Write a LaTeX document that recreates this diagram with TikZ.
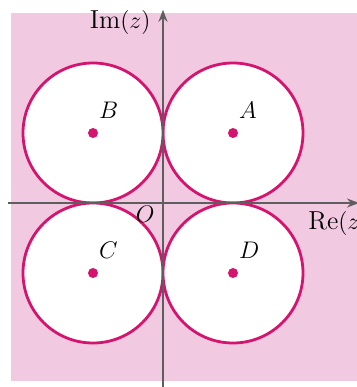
\documentclass[tikz,border=0pt]{standalone}
\usepackage{xcolor}
\usepackage{tikz}
\usetikzlibrary{positioning,arrows.meta}

\definecolor{bgpink}{HTML}{F1C9E1}
\definecolor{rim}{HTML}{D4146E}
\definecolor{axisgrey}{HTML}{5E5E5E}

\begin{document}
\begin{tikzpicture}[
    x=35pt, y=35pt,
    disc/.style={
        circle,
        draw=rim,
        fill=white,
        line width=1.4pt,
        minimum size=70pt,
        inner sep=0pt
    },
    centre/.style={
        circle,
        fill=rim,
        minimum size=5pt,
        inner sep=0pt
    },
    lbl/.style={
        inner sep=0pt,
        font=\fontsize{13}{15}\selectfont
    },
    axis/.style={
        -{Stealth[length=6pt,width=4.5pt]},
        draw=axisgrey,
        line width=1pt
    }
]

\useasboundingbox (-2.3286,-2.6286) rectangle (2.7714,2.9);
\fill[bgpink] (-2.17,-2.54) rectangle (2.8,2.71);

\node[disc] (cA) at (1,1) {};
\node[disc] (cB) at (-1,1) {};
\node[disc] (cC) at (-1,-1) {};
\node[disc] (cD) at (1,-1) {};

\coordinate (orig) at (0,0);
\coordinate (xl) at (-2.21,0);
\coordinate (xr) at (2.8,0);
\coordinate (yb) at (0,-2.63);
\coordinate (yt) at (0,2.76);

\draw[axis] (xl) -- (xr);
\draw[axis] (yb) -- (yt);

\node[centre] (dA) at (cA.center) {};
\node[centre] (dB) at (cB.center) {};
\node[centre] (dC) at (cC.center) {};
\node[centre] (dD) at (cD.center) {};

\node[lbl, above right=5pt and 1pt of dA] (lA) {$A$};
\node[lbl, above right=5pt and 1pt of dB] (lB) {$B$};
\node[lbl, above right=5pt and 1pt of dC] (lC) {$C$};
\node[lbl, above right=5pt and 1pt of dD] (lD) {$D$};

\node[lbl, below left=1.5pt and 4pt of orig] (lO) {$O$};
\node[lbl, below left=0pt and 6pt of yt] (lIm) {Im$(z)$};
\node[lbl, anchor=west] (lRe) at (2.07,-0.29) {Re$(z)$};

\end{tikzpicture}
\end{document}
